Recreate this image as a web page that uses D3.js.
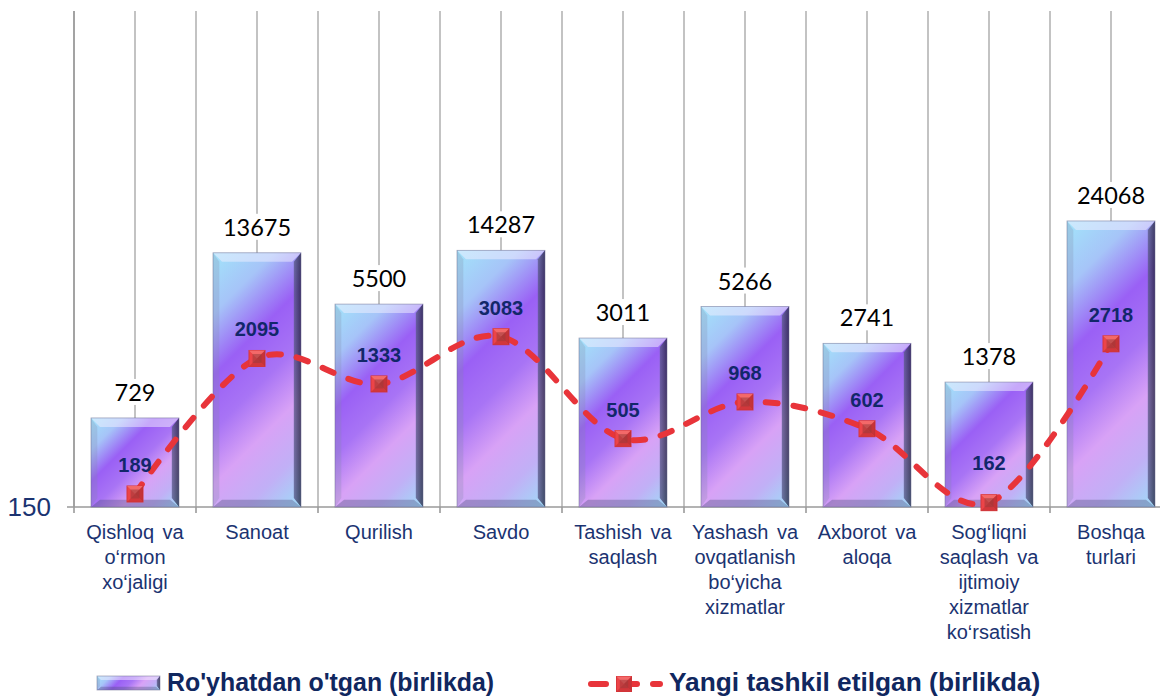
<!DOCTYPE html>
<html><head><meta charset="utf-8">
<script src="https://cdn.jsdelivr.net/npm/d3@7"></script>
<style>body{margin:0;background:#fff}svg{display:block}</style>
</head><body>
<svg id="c" width="1160" height="697"></svg>
<script>
const categories = [
  ["Qishloq va","o‘rmon","xo‘jaligi"],
  ["Sanoat"],
  ["Qurilish"],
  ["Savdo"],
  ["Tashish va","saqlash"],
  ["Yashash va","ovqatlanish","bo‘yicha","xizmatlar"],
  ["Axborot va","aloqa"],
  ["Sog‘liqni","saqlash va","ijtimoiy","xizmatlar","ko‘rsatish"],
  ["Boshqa","turlari"]
];
const registered = [729, 13675, 5500, 14287, 3011, 5266, 2741, 1378, 24068];
const newlyCreated = [189, 2095, 1333, 3083, 505, 968, 602, 162, 2718];
const yTickLabels = [150];
const seriesNames = ["Ro'yhatdan o'tgan (birlikda)", "Yangi tashkil etilgan (birlikda)"];
const yDomain = [150, 1000000];

const svg = d3.select("#c");
const keys = categories.map((d,i)=>i);
const x = d3.scaleBand().domain(keys).range([74, 74 + 9*122]).padding(0);
const y = d3.scaleLog().domain(yDomain).range([507, 11]);
const navy = "#1b3371";

const defs = svg.append("defs");
const barStops = [[0,"#a2e4fa"],[0.18,"#a6c4f8"],[0.36,"#9a60f5"],[0.52,"#a874f5"],[0.68,"#d8a2f6"],[0.84,"#c1b0f6"],[1,"#9fdcf8"]];
let gid = 0;
function diagGradient(bx, by, bw, bh){
  const id = "bg" + (gid++);
  const s = (bw + bh) / 2;
  const g = defs.append("linearGradient").attr("id",id).attr("gradientUnits","userSpaceOnUse")
    .attr("x1",bx).attr("y1",by).attr("x2",bx+s).attr("y2",by+s);
  barStops.forEach(st=>g.append("stop").attr("offset",st[0]).attr("stop-color",st[1]));
  return "url(#"+id+")";
}
const rg = defs.append("linearGradient").attr("id","rightG").attr("x1",0).attr("y1",0).attr("x2",1).attr("y2",0);
rg.append("stop").attr("offset",0).attr("stop-color","#5a5a8a");
rg.append("stop").attr("offset",1).attr("stop-color","#1e1e38");

// gridlines
const grid = svg.append("g");
const gridXs = [];
keys.forEach(k=>{ gridXs.push(x(k)); gridXs.push(x(k)+x.bandwidth()/2); });
grid.selectAll("line").data(gridXs).join("line")
  .attr("x1",d=>d).attr("x2",d=>d).attr("y1",y(yDomain[1])).attr("y2",y(yDomain[0]))
  .attr("stroke",(d,i)=>i===0?"#8c8c8c":"#b4b4b4").attr("stroke-width",1.6);

// x axis line & ticks
svg.append("line").attr("x1",67).attr("x2",1160).attr("y1",y(150)).attr("y2",y(150))
  .attr("stroke","#9a9a9a").attr("stroke-width",1.6);
svg.selectAll(".tk").data(keys).join("line").attr("class","tk")
  .attr("x1",d=>x(d)).attr("x2",d=>x(d)).attr("y1",y(150)).attr("y2",y(150)+6)
  .attr("stroke","#9a9a9a").attr("stroke-width",1.6);

// y tick label
svg.selectAll(".yl").data(yTickLabels).join("text").attr("class","yl")
  .attr("x",51).attr("y",d=>y(d)+9).attr("text-anchor","end")
  .attr("font-family","Liberation Sans, Arial").attr("font-size",26).attr("fill",navy).text(d=>d);

// bevelled bar
function bevelBar(g, bx, by, bw, bh, bv){
  g.append("rect").attr("x",bx).attr("y",by).attr("width",bw).attr("height",bh).attr("fill",diagGradient(bx,by,bw,bh));
  const P = pts=>pts.map(p=>p.join(",")).join(" ");
  g.append("polygon").attr("points",P([[bx,by],[bx+bw,by],[bx+bw-bv,by+bv],[bx+bv,by+bv]])).attr("fill","#f4f0ff").attr("opacity",0.5);
  g.append("polygon").attr("points",P([[bx,by],[bx+bv*0.7,by+bv],[bx+bv*0.7,by+bh-bv],[bx,by+bh]])).attr("fill","#8088a8").attr("opacity",0.25);
  g.append("polygon").attr("points",P([[bx+bw,by],[bx+bw,by+bh],[bx+bw-bv*0.8,by+bh-bv],[bx+bw-bv*0.8,by+bv]])).attr("fill","url(#rightG)").attr("opacity",0.75);
  g.append("polygon").attr("points",P([[bx,by+bh],[bx+bw,by+bh],[bx+bw-bv,by+bh-bv*0.8],[bx+bv,by+bh-bv*0.8]])).attr("fill","#4a4a78").attr("opacity",0.35);
  g.append("rect").attr("x",bx).attr("y",by).attr("width",bw).attr("height",bh).attr("fill","none").attr("stroke","#6a6a90").attr("stroke-width",0.8).attr("opacity",0.6);
}

const barW = 88;
const bars = svg.append("g");
registered.forEach((v,i)=>{
  const bx = x(i) + x.bandwidth()/2 - barW/2;
  const by = y(v);
  bevelBar(bars, bx, by, barW, y(150)-by, 9);
});

// value labels above bars with white background
const vl = svg.append("g");
registered.forEach((v,i)=>{
  const cx = x(i)+x.bandwidth()/2;
  const t = vl.append("text").attr("x",cx).attr("y",y(v)-17).attr("text-anchor","middle")
    .attr("font-family","Lato, Carlito, sans-serif").attr("font-size",23.5).attr("fill","#000").text(v);
  const bb = t.node().getBBox();
  vl.insert("rect","text").attr("x",bb.x-2).attr("y",bb.y+1).attr("width",bb.width+4).attr("height",bb.height-2).attr("fill","#fff");
});

// marker
function marker(g, cx, cy, s){
  const h = s/2;
  g.append("rect").attr("x",cx-h).attr("y",cy-h).attr("width",s).attr("height",s).attr("fill","#ec4448").attr("stroke","#d8363a").attr("stroke-width",1);
  const P = pts=>pts.map(p=>p.join(",")).join(" ");
  const i = s*0.22;
  g.append("polygon").attr("points",P([[cx-h,cy-h],[cx+h,cy-h],[cx,cy]])).attr("fill","#f57070").attr("opacity",0.85);
  g.append("polygon").attr("points",P([[cx+h,cy-h],[cx+h,cy+h],[cx,cy]])).attr("fill","#b52c30").attr("opacity",0.7);
  g.append("polygon").attr("points",P([[cx-h,cy+h],[cx+h,cy+h],[cx,cy]])).attr("fill","#c73236").attr("opacity",0.7);
  g.append("rect").attr("x",cx-h+i).attr("y",cy-h+i).attr("width",s-2*i).attr("height",s-2*i).attr("fill","#9a3a3a").attr("opacity",0.55);
}

// line
const lineG = svg.append("g");
const pts = newlyCreated.map((v,i)=>[x(i)+x.bandwidth()/2, y(v)]);
lineG.append("path").attr("d", d3.line().curve(d3.curveCatmullRom.alpha(0))(pts))
  .attr("fill","none").attr("stroke","#e8343a").attr("stroke-width",6)
  .attr("stroke-dasharray","12,16").attr("stroke-linecap","round");
pts.forEach(p=>marker(lineG, p[0], p[1], 16));

// inner labels
const labelNudge = {7: -11};
svg.append("g").selectAll("text").data(newlyCreated).join("text")
  .attr("x",(d,i)=>x(i)+x.bandwidth()/2).attr("y",(d,i)=>y(d)-22+(labelNudge[i]||0))
  .attr("text-anchor","middle").attr("font-family","Liberation Sans, Arial").attr("font-weight","bold")
  .attr("font-size",20).attr("fill","#12276a").text(d=>d);

// category labels
const cl = svg.append("g");
categories.forEach((lines,i)=>{
  const t = cl.append("text").attr("text-anchor","middle").attr("font-family","Liberation Sans, Arial")
    .attr("font-size",20).attr("fill",navy).attr("word-spacing",3);
  lines.forEach((ln,j)=>t.append("tspan").attr("x",x(i)+x.bandwidth()/2).attr("y",539+25*j).text(ln));
});

// legend
const lg = svg.append("g");
bevelBar(lg, 97, 676, 63, 14, 4);
lg.append("text").attr("x",167).attr("y",691).attr("font-family","Liberation Sans, Arial").attr("font-weight","bold")
  .attr("font-size",24.9).attr("fill","#10275f").text(seriesNames[0]);
lg.append("line").attr("x1",591).attr("x2",660).attr("y1",684).attr("y2",684)
  .attr("stroke","#e8343a").attr("stroke-width",6).attr("stroke-dasharray","15,16").attr("stroke-linecap","round");
marker(lg, 624, 684, 15);
lg.append("text").attr("x",669).attr("y",691).attr("font-family","Liberation Sans, Arial").attr("font-weight","bold")
  .attr("font-size",26.3).attr("fill","#10275f").text(seriesNames[1]);
</script>
</body></html>
